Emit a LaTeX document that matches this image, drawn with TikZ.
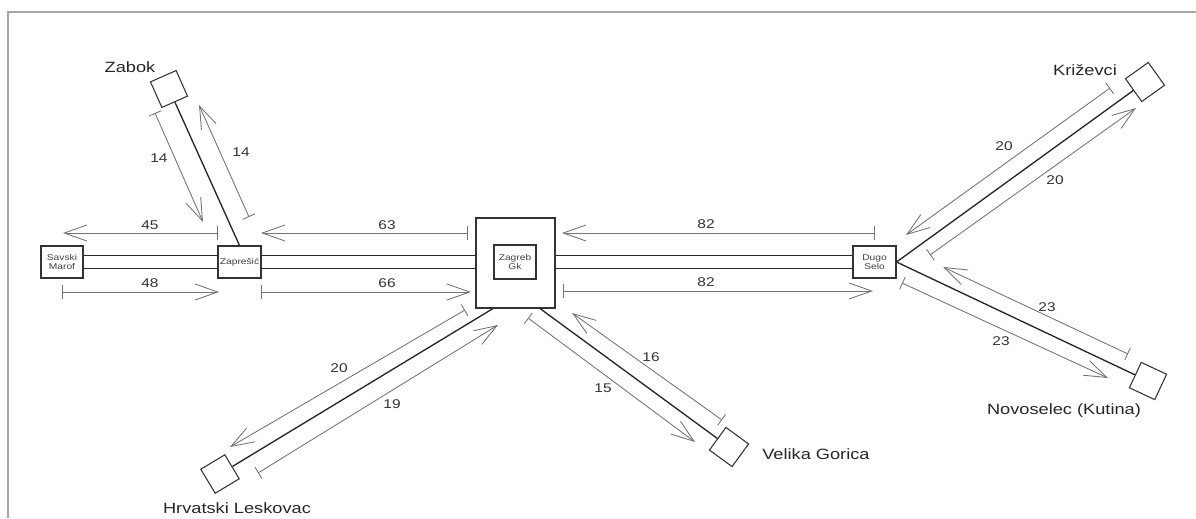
\documentclass[tikz,border=0pt]{standalone}
\usepackage{fontspec}
\setmainfont{Liberation Sans}
\usetikzlibrary{arrows.meta,calc}
\newcommand\hs[1]{\scalebox{1.22}[1]{#1}}
\begin{document}
\begin{tikzpicture}[x=0.75pt,y=-0.75pt,
  stbox/.style={draw=black!80,line width=0.8pt,inner sep=0pt,align=center,font=\fontsize{6.3}{7}\selectfont,text=black!75},
  dia/.style={draw=black!80,line width=0.8pt,inner sep=0pt,minimum width=21pt,minimum height=21pt},
  track/.style={draw=black!85,line width=1pt},
  dim/.style={draw=black!55,line width=0.65pt,{Bar[width=10pt]}-{Straight Barb[length=17pt,width=12pt]}},
  num/.style={font=\fontsize{9.5}{11}\selectfont,text=black!80,inner sep=0pt},
  sname/.style={font=\fontsize{11.2}{13}\selectfont,text=black!85,inner sep=0pt},
  frame/.style={draw=black!35,line width=1.1pt}]
\useasboundingbox (0,0) rectangle (1196,518);
\draw[frame] (8,518) -- (8,12) -- (1196,12);

% stations
\node[stbox,minimum width=31.5pt,minimum height=24pt] (sm) at (62,262) {\hs{Savski}\\\hs{Marof}};
\node[stbox,minimum width=32.25pt,minimum height=24pt] (zp) at (239.5,262) {\hs{Zaprešić}};
\node[draw=black!80,line width=0.8pt,minimum width=59.25pt,minimum height=67.5pt,inner sep=0pt] (zg) at (515.5,263) {};
\node[stbox,minimum width=31.5pt,minimum height=25.5pt] (zgi) at (515,262) {\hs{Zagreb}\\\hs{Gk}};
\node[stbox,minimum width=32.25pt,minimum height=24pt] (ds) at (874.5,262) {\hs{Dugo}\\\hs{Selo}};

\node[dia,rotate=24] (zb) at (169,89) {};
\node[dia,rotate=31] (hl) at (220,474) {};
\node[dia,rotate=54] (vg) at (729,447) {};
\node[dia,rotate=35.5] (kr) at (1145,82) {};
\node[dia,rotate=-25] (nv) at (1148,381) {};

% names
\node[sname] (tzb) at (130,67) {\hs{Zabok}};
\node[sname] (tkr) at (1085,70) {\hs{Križevci}};
\node[sname,anchor=west] (tvg) at (762,454) {\hs{Velika Gorica}};
\node[sname] (tnv) at (1064,411) {\hs{Novoselec (Kutina)}};
\node[sname] (thl) at (237,508) {\hs{Hrvatski Leskovac}};

% tracks
\foreach \o in {-6.5,6.5} {
  \draw[track] ($(sm.east)+(0,\o)$) -- ($(zp.west)+(0,\o)$);
  \draw[track] ($(zp.east)+(0,\o)$) coordinate (p) -- (p -| zg.west);
  \draw[track] ($(ds.west)+(0,\o)$) coordinate (q) -- (q -| zg.east);
}
\draw[track] (zp.north) -- (zb);
\draw[track] ($(zg.south)+(-22.5,0)$) coordinate (zgl) -- (hl);
\draw[track] ($(zg.south)+(24.5,0)$) coordinate (zgr) -- (vg);
\draw[track] (ds.east) -- (kr);
\draw[track] (ds.east) -- (nv);

% travel times
\foreach \ax/\ay/\bx/\by/\lx/\ly/\t [count=\i] in {
  155/113/203/222/159/158/14,
  249/217/199/105/241/152/14,
  218/233/63/233/150/225/45,
  62/292/219/292/150/283/48,
  468/233/261/233/387/225/63,
  261/292/471/292/387/283/66,
  875/233/562/233/706/224/82,
  563/291/873/291/706/282/82,
  465/310/230/447/339/368/20,
  258/473/498/325/392/404/19,
  528/318/695/442/603/388/15,
  722/420/572/313/651/357/16,
  1110/88/906/235/1004/146/20,
  930/255/1136/108/1055/180/20,
  1128/354/943/267/1047/307/23,
  902/283/1108/378/1001/341/23} {
  \coordinate (d\i s) at (\ax,\ay);
  \coordinate (d\i e) at (\bx,\by);
  \draw[dim] (d\i s) -- (d\i e);
  \node[num] (n\i) at (\lx,\ly) {\hs{\t}};
}
\end{tikzpicture}
\end{document}
